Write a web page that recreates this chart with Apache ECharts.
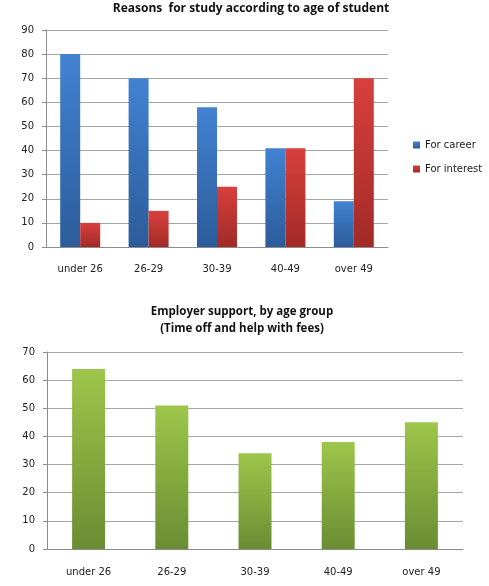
<!DOCTYPE html>
<html><head><meta charset="utf-8">
<script src="https://cdn.jsdelivr.net/npm/echarts@6/dist/echarts.min.js"></script>
<style>html,body{margin:0;padding:0;background:#fff}#c{width:489px;height:586px}</style>
</head><body><div id="c"></div>
<script>
const categories = ['under 26', '26-29', '30-39', '40-49', 'over 49'];
const careerValues = [80, 70, 58, 41, 19];
const interestValues = [10, 15, 25, 41, 70];
const supportValues = [64, 51, 34, 38, 45];
const topTicks = [0, 10, 20, 30, 40, 50, 60, 70, 80, 90];
const bottomTicks = [0, 10, 20, 30, 40, 50, 60, 70];

function grad(top, bottom) {
  return new echarts.graphic.LinearGradient(0, 0, 0, 1, [
    {offset: 0, color: top}, {offset: 1, color: bottom}
  ]);
}
const labelFont = {fontFamily: 'DejaVu Sans', fontSize: 10, color: '#222'};
const axisLineStyle = {lineStyle: {color: '#8c8c8c', width: 1}};
const splitStyle = {lineStyle: {color: '#a6a6a6', width: 1}};

const chart = echarts.init(document.getElementById('c'), null, {renderer: 'canvas'});
chart.setOption({
  animation: false,
  backgroundColor: '#fff',
  title: [
    {text: 'Reasons  for study according to age of student', left: 246, textAlign: 'center', top: -2,
     textStyle: {fontFamily: 'Open Sans', fontWeight: 'bold', fontSize: 12, color: '#111'}},
    {text: 'Employer support, by age group\n(Time off and help with fees)', left: 237, textAlign: 'center', top: 298,
     textStyle: {fontFamily: 'Open Sans', fontWeight: 'bold', fontSize: 11.5, lineHeight: 17, color: '#111'}}
  ],
  legend: {
    orient: 'vertical', left: 408, top: 135, itemWidth: 7, itemHeight: 7, itemGap: 14, icon: 'rect',
    textStyle: {fontFamily: 'DejaVu Sans', fontSize: 10, color: '#222'},
    data: ['For career', 'For interest']
  },
  grid: [
    {left: 46, right: 101, top: 30, bottom: 339},
    {left: 47, right: 26, top: 352, bottom: 37}
  ],
  xAxis: [
    {type: 'category', gridIndex: 0, data: categories, axisLine: axisLineStyle, axisTick: {show: false},
     axisLabel: Object.assign({margin: 17}, labelFont)},
    {type: 'category', gridIndex: 1, data: categories, axisLine: axisLineStyle, axisTick: {show: false},
     axisLabel: Object.assign({margin: 18}, labelFont)}
  ],
  yAxis: [
    {type: 'value', gridIndex: 0, min: topTicks[0], max: topTicks[topTicks.length - 1], interval: 10,
     axisLine: Object.assign({show: true}, axisLineStyle), axisTick: {show: true, length: 4, lineStyle: {color: '#8c8c8c'}},
     splitLine: splitStyle, axisLabel: Object.assign({margin: 12}, labelFont)},
    {type: 'value', gridIndex: 1, min: bottomTicks[0], max: bottomTicks[bottomTicks.length - 1], interval: 10,
     axisLine: Object.assign({show: true}, axisLineStyle), axisTick: {show: true, length: 4, lineStyle: {color: '#8c8c8c'}},
     splitLine: splitStyle, axisLabel: Object.assign({margin: 12}, labelFont)}
  ],
  series: [
    {name: 'For career', type: 'bar', xAxisIndex: 0, yAxisIndex: 0, data: careerValues,
     barWidth: 20, barGap: '0%', itemStyle: {color: grad('#4282d2', '#2c5c9a')}},
    {name: 'For interest', type: 'bar', xAxisIndex: 0, yAxisIndex: 0, data: interestValues,
     barWidth: 20, barGap: '0%', itemStyle: {color: grad('#d8403c', '#a22a27')}},
    {name: 'Employer support', type: 'bar', xAxisIndex: 1, yAxisIndex: 1, data: supportValues,
     barWidth: 33, itemStyle: {color: grad('#9dc64a', '#6a8d33')}}
  ]
});
</script></body></html>
